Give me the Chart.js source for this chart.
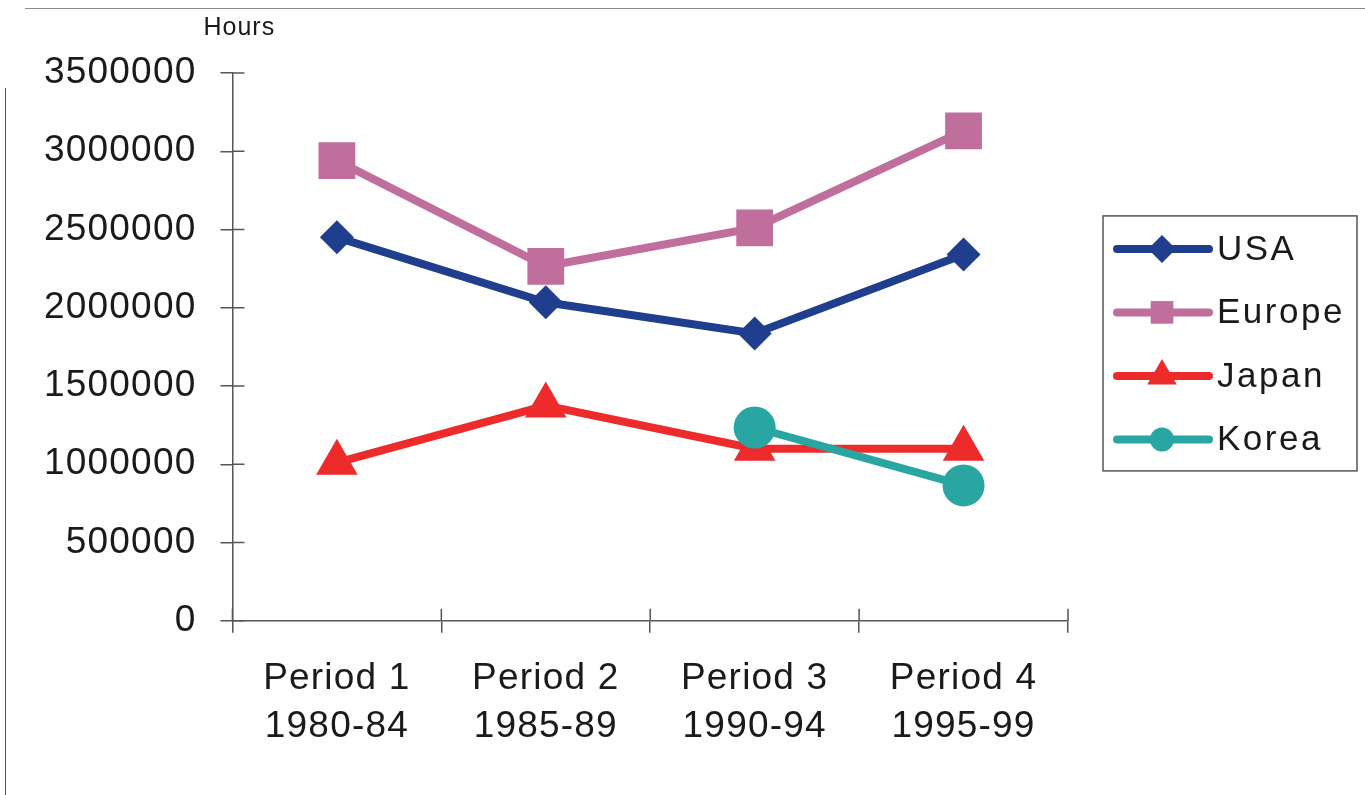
<!DOCTYPE html>
<html><head><meta charset="utf-8">
<script src="https://cdn.jsdelivr.net/npm/chart.js@4/dist/chart.umd.min.js"></script>
<style>
html,body{margin:0;padding:0;background:#fff;}
#wrap{position:relative;width:1365px;height:795px;overflow:hidden;background:#fff;}
#topline{position:absolute;left:25px;right:0;top:8px;height:0;border-top:1.5px solid #8a8a8a;}
#leftline{position:absolute;left:5px;top:88px;bottom:0;width:0;border-left:1.5px solid #555;}
canvas{position:absolute;left:0;top:0;}
</style></head><body>
<div id="wrap"><div id="topline"></div><div id="leftline"></div><canvas id="c" width="1365" height="795"></canvas></div>
<script>
const periodNames = ['Period 1', 'Period 2', 'Period 3', 'Period 4'];
const periodYears = ['1980-84', '1985-89', '1990-94', '1995-99'];
const seriesNames = ['USA', 'Europe', 'Japan', 'Korea'];
const usa    = [2450000, 2035000, 1836000, 2340000];
const europe = [2940000, 2265000, 2510000, 3130000];
const japan  = [1010000, 1375000, 1100000, 1100000];
const korea  = [null, null, 1235000, 865000];
const yMin = 0, yMax = 3500000, yStep = 500000;
const yAxisUnit = 'Hours';

const colors = ['#1f3f8e', '#c06e9c', '#ee2b2b', '#2aa6a2'];
const styles = ['rectRot', 'rect', 'triangle', 'circle'];
const radii  = [17, 26, 24, 21];
const legendRadii = [14, 16, 17, 12];
const FONT = '"Liberation Sans", Arial, sans-serif';
const SPACING = '1.2px';
const LEGEND_SPACING = '2.5px';
const TEXT = '#1a1a1a';

const categories = periodNames.map((p, i) => [p, periodYears[i]]);
const allSeries = [usa, europe, japan, korea];
const orders = [1, 2, 3, 0];

function setSpacing(c) { c.ctx.letterSpacing = SPACING; }

function marker(ctx, style, x, y, r) {
  ctx.beginPath();
  if (style === 'rectRot') {
    ctx.moveTo(x, y - r); ctx.lineTo(x + r, y); ctx.lineTo(x, y + r); ctx.lineTo(x - r, y);
  } else if (style === 'rect') {
    const s = r * Math.SQRT1_2;
    ctx.rect(x - s, y - s, 2 * s, 2 * s);
  } else if (style === 'triangle') {
    ctx.moveTo(x, y - r);
    ctx.lineTo(x + r * 0.866, y + r * 0.5);
    ctx.lineTo(x - r * 0.866, y + r * 0.5);
  } else {
    ctx.arc(x, y, r, 0, Math.PI * 2);
  }
  ctx.closePath();
  ctx.fill();
}

const decor = {
  id: 'decor',
  beforeUpdate: setSpacing,
  beforeLayout: setSpacing,
  beforeDraw: setSpacing,
  afterDraw(chart) {
    const ctx = chart.ctx, ca = chart.chartArea;
    const xs = chart.scales.x, ys = chart.scales.y;
    ctx.save();
    ctx.strokeStyle = '#555'; ctx.lineWidth = 1.5;
    ctx.beginPath();
    ys.ticks.forEach((t, i) => {
      const py = ys.getPixelForTick(i);
      ctx.moveTo(ca.left, py); ctx.lineTo(ca.left + 12, py);
    });
    for (let i = 0; i <= categories.length; i++) {
      const px = xs.getPixelForValue(i - 0.5);
      ctx.moveTo(px, ca.bottom); ctx.lineTo(px, ca.bottom - 12);
    }
    ctx.stroke();
    ctx.letterSpacing = '1px';
    ctx.fillStyle = TEXT;
    ctx.font = '25px ' + FONT;
    ctx.textAlign = 'left'; ctx.textBaseline = 'alphabetic';
    ctx.fillText(yAxisUnit, ca.left - 29, ca.top - 38);
    const L = { x: ca.right + 35, y: (ca.top + ca.bottom) / 2 - 131, w: 254, h: 255 };
    ctx.strokeStyle = '#555'; ctx.lineWidth = 1.5;
    ctx.strokeRect(L.x, L.y, L.w, L.h);
    ctx.letterSpacing = LEGEND_SPACING;
    ctx.font = '35px ' + FONT;
    ctx.textBaseline = 'middle';
    chart.data.datasets.forEach((ds, i) => {
      const cy = L.y + 33 + i * 63.5;
      ctx.strokeStyle = ds.borderColor; ctx.lineWidth = 8; ctx.lineCap = 'round';
      ctx.beginPath(); ctx.moveTo(L.x + 14, cy); ctx.lineTo(L.x + 106, cy); ctx.stroke();
      ctx.fillStyle = ds.borderColor;
      marker(ctx, ds.pointStyle, L.x + 59, cy, legendRadii[i]);
      ctx.fillStyle = TEXT;
      ctx.fillText(ds.label, L.x + 114, cy + 1);
    });
    ctx.restore();
  }
};

new Chart(document.getElementById('c'), {
  type: 'line',
  data: {
    labels: categories,
    datasets: seriesNames.map((name, i) => ({
      label: name,
      data: allSeries[i],
      borderColor: colors[i],
      backgroundColor: colors[i],
      pointBackgroundColor: colors[i],
      pointBorderColor: colors[i],
      pointStyle: styles[i],
      pointRadius: radii[i],
      pointHoverRadius: radii[i],
      pointBorderWidth: 0,
      borderWidth: 8,
      tension: 0,
      order: orders[i],
      clip: false,
      spanGaps: false
    }))
  },
  options: {
    responsive: false,
    animation: false,
    events: [],
    layout: { padding: { left: 20, right: 297, top: 73, bottom: 22 } },
    plugins: { legend: { display: false }, tooltip: { enabled: false } },
    scales: {
      x: {
        type: 'category',
        offset: true,
        grid: { display: true, offset: true, drawOnChartArea: false, drawTicks: true, tickLength: 12, color: '#555', lineWidth: 1.5 },
        border: { display: true, color: '#555', width: 1.5 },
        ticks: { color: TEXT, font: { family: FONT, size: 37, lineHeight: 1.3 }, padding: 22, maxRotation: 0, autoSkip: false }
      },
      y: {
        min: yMin, max: yMax,
        grid: { display: true, drawOnChartArea: false, drawTicks: true, tickLength: 12, color: '#555', lineWidth: 1.5 },
        border: { display: true, color: '#555', width: 1.5 },
        ticks: { stepSize: yStep, color: TEXT, font: { family: FONT, size: 37 }, padding: 24, callback: v => String(v) }
      }
    }
  },
  plugins: [decor]
});
</script>
</body></html>
